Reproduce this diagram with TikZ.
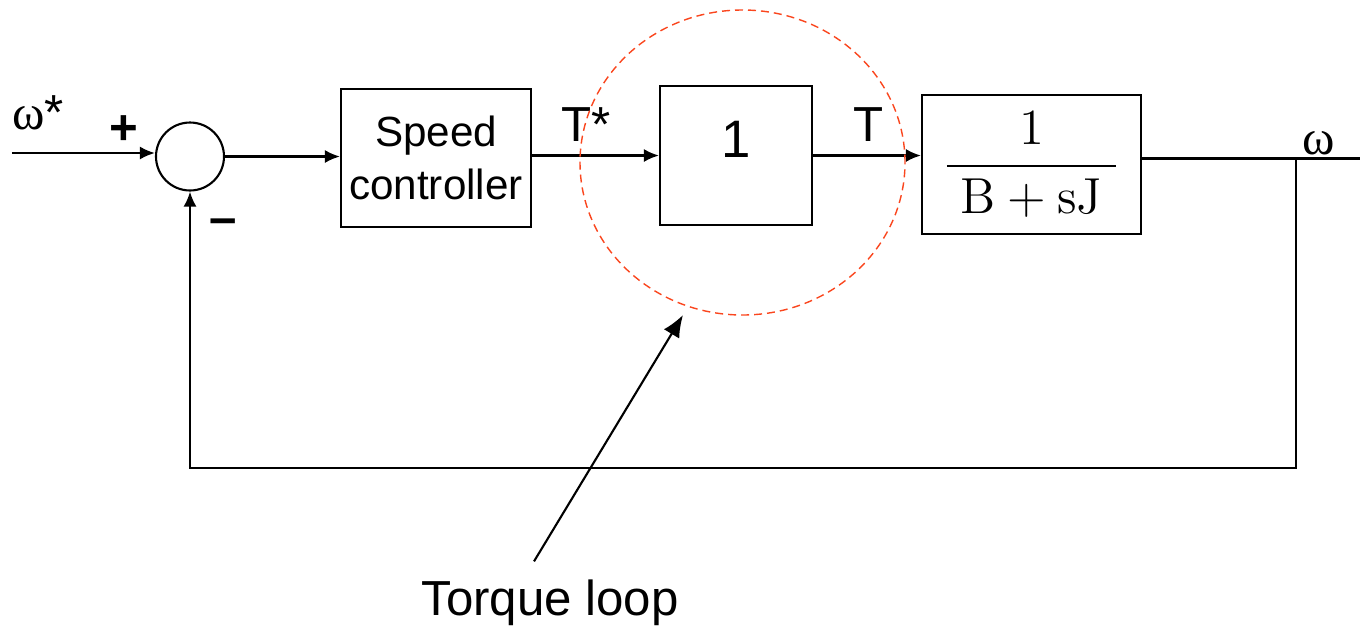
\documentclass[tikz,border=0pt]{standalone}
\usepackage[no-math]{fontspec}
\setmainfont{Liberation Sans}
\newfontfamily\grk{Liberation Serif}
\usetikzlibrary{arrows.meta}
\definecolor{loopred}{RGB}{250,70,30}
\begin{document}
\begin{tikzpicture}[>={Latex[length=0.15cm,width=0.13cm]},
  blk/.style={draw,semithick,inner sep=0pt},
  lbl/.style={font=\fontsize{14}{16}\selectfont,inner sep=0pt},
  sgn/.style={font=\fontsize{14}{16}\selectfont\bfseries,inner sep=0pt}]
	  \useasboundingbox (0,0) rectangle (13.6,-6.29);
	  % blocks
	  \node[blk,circle,minimum size=0.68cm] (sum) at (1.90,-1.565) {};
	  \node[blk,minimum width=1.90cm,minimum height=1.38cm,align=center,
	        font=\fontsize{12}{15}\selectfont] (ctrl) at (4.36,-1.58) {Speed\\controller};
	  \node[blk,minimum width=1.52cm,minimum height=1.39cm,text depth=0.33cm,
	        font=\fontsize{15}{17}\selectfont] (tq) at (7.36,-1.555) {1};
	  \node[blk,minimum width=2.19cm,minimum height=1.39cm,
	        font=\fontsize{14}{16}\selectfont] (mech) at (10.315,-1.645)
	        {\raisebox{-0.1cm}{$\displaystyle\frac{1}{\;\mathrm{B+sJ}\;}$}};
	  % labels
	  \node[lbl] (wref) at (0.38,-1.13) {{\grk ω}*};
	  \node[sgn] (plus) at (1.24,-1.30) {+};
	  \node[sgn] (minus) at (2.23,-2.27) {–};
	  \node[lbl] (tref) at (5.86,-1.25) {T*};
	  \node[lbl] (tout) at (8.69,-1.25) {T};
	  \node[lbl] (wout) at (13.19,-1.43) {\grk ω};
	  \node[lbl] (note) at (5.50,-6.03) {Torque loop};
	  % signal path
	  \coordinate (in) at (0.12,-1.53);
	  \coordinate (out) at (13.6,-1.585);
	  \coordinate (fb) at (12.96,-1.585);
	  \coordinate (bot) at (12.96,-4.68);
	  \draw[semithick,->] (in) -- (in -| sum.west);
	  \draw[semithick,->] (sum.east) -- (sum.east -| ctrl.west);
	  \draw[semithick,->] (ctrl.east |- tq.west) -- (tq.west);
	  \draw[semithick,->] (tq.east) -- (tq.east -| mech.west);
	  \draw[semithick] ([yshift=0.06cm]mech.east) -- (out);
	  \draw[semithick,->] (fb) -- (bot) -| (sum.south);
	  % torque loop
	  \draw[loopred,thin,dash pattern=on 0.08cm off 0.05cm] (7.425,-1.625) ellipse (1.625 and 1.525);
	  \coordinate (tip) at (6.83,-3.15);
	  \draw[semithick,-{Latex[length=0.22cm,width=0.18cm]}] ([xshift=-0.16cm,yshift=0.18cm]note.north) -- (tip);
	\end{tikzpicture}
\end{document}
